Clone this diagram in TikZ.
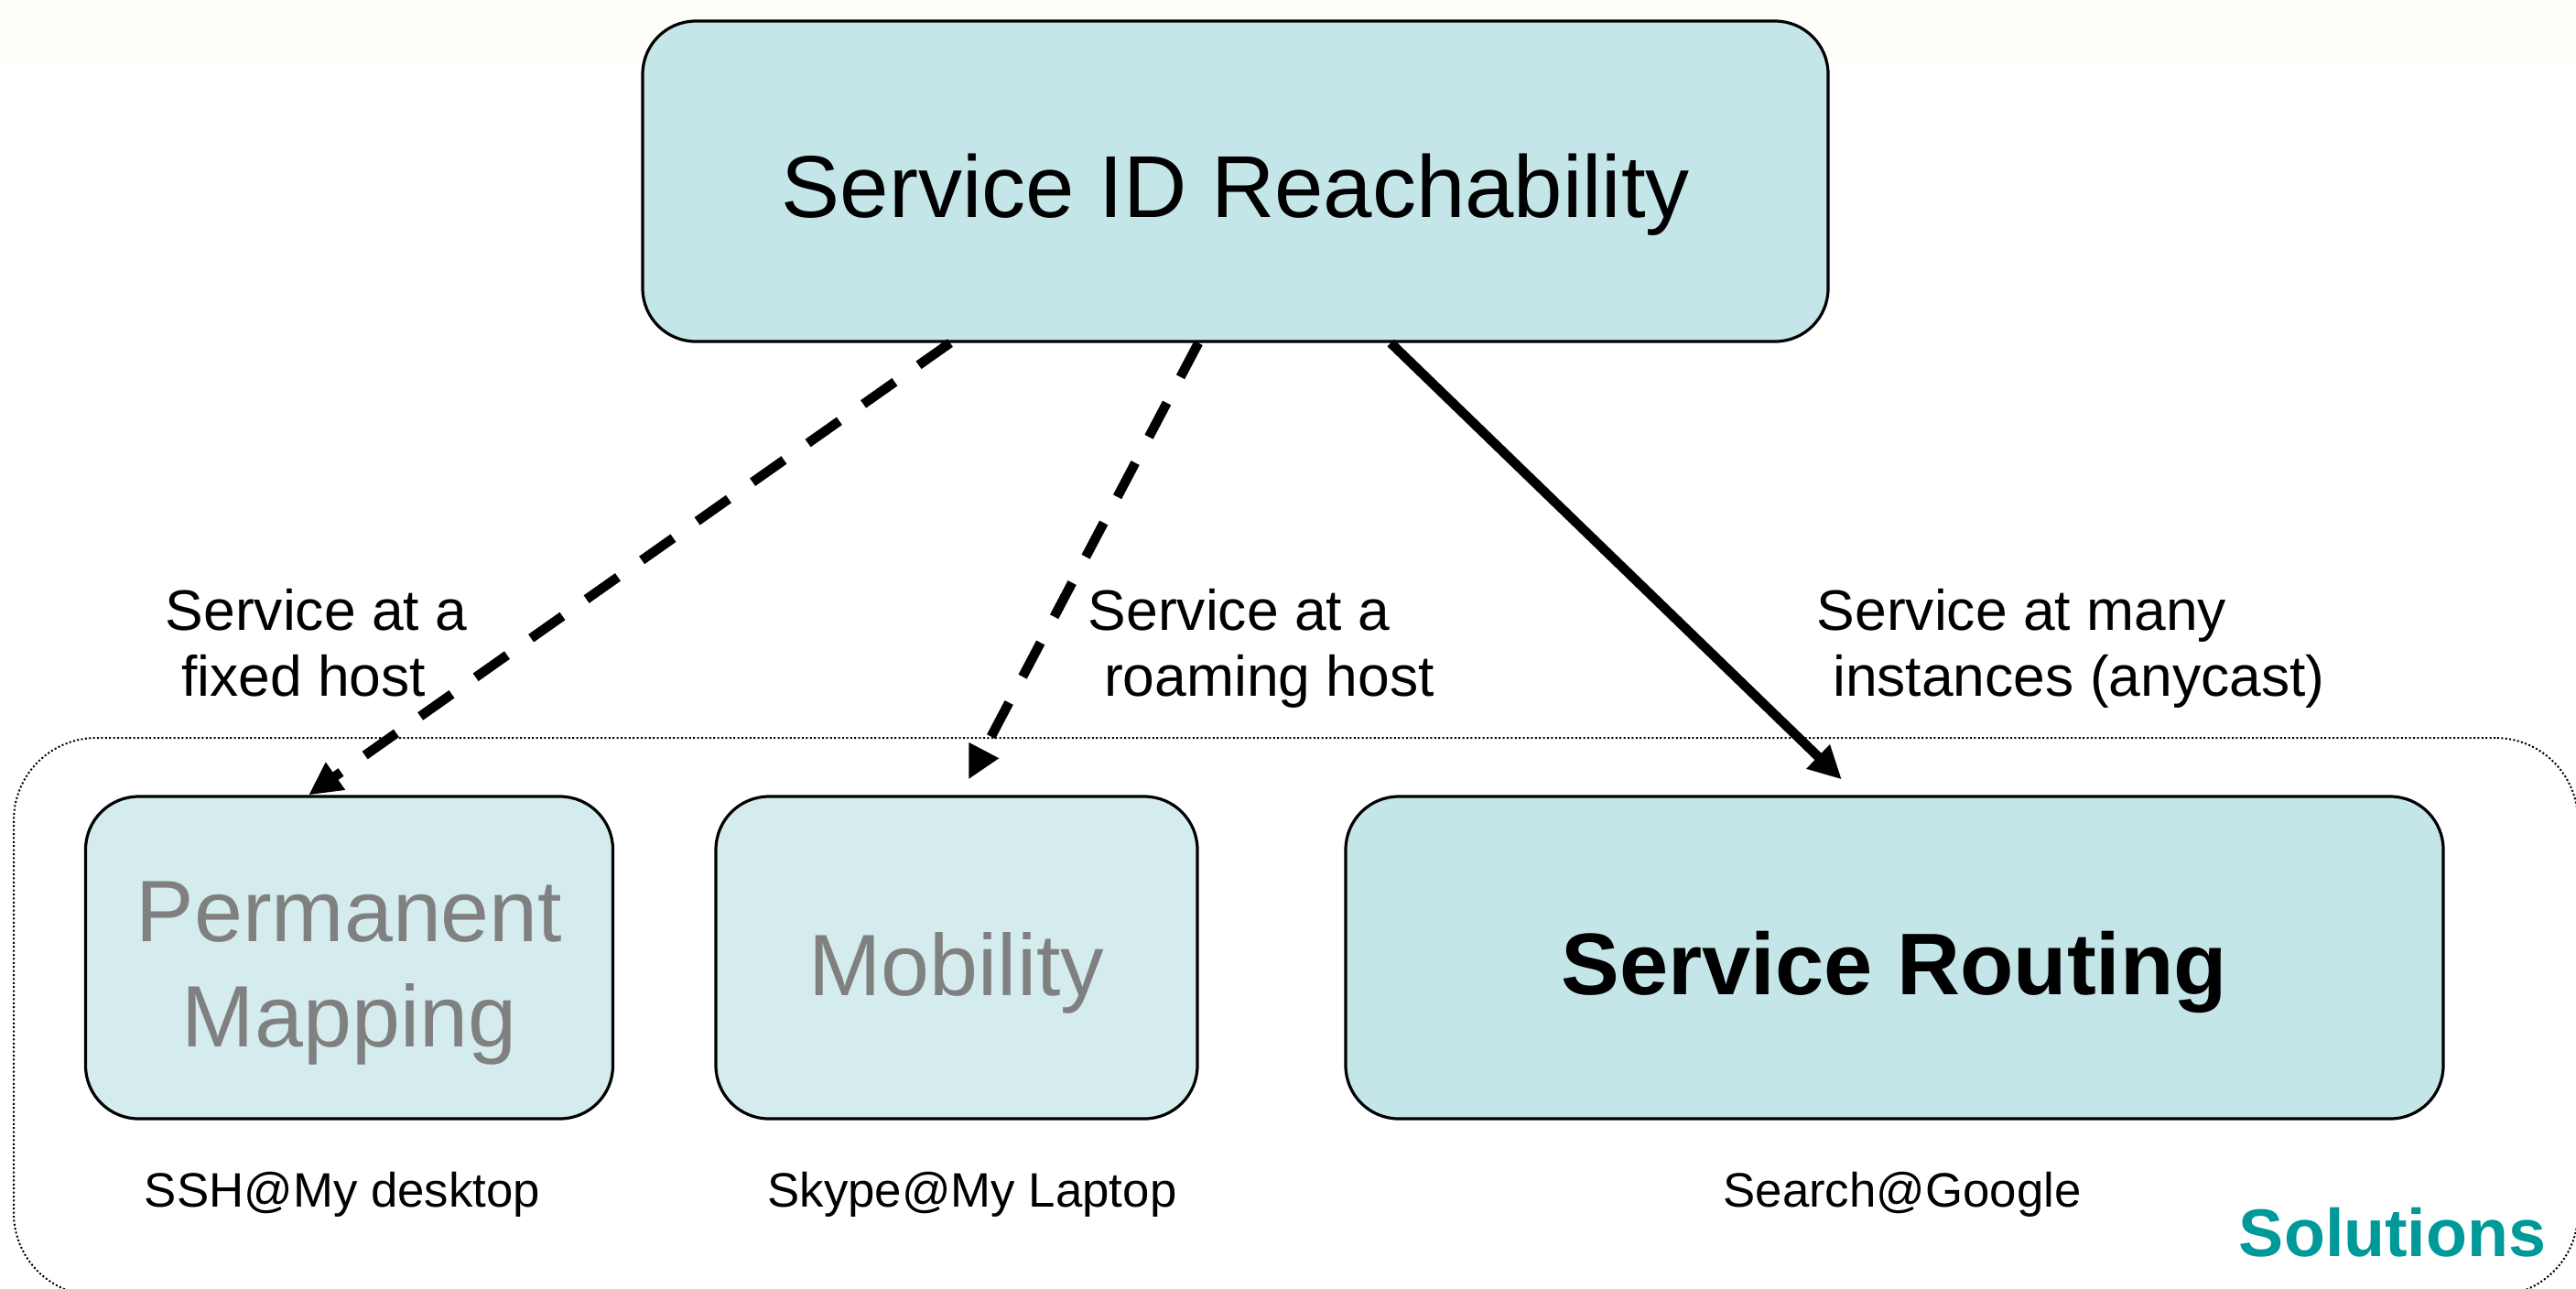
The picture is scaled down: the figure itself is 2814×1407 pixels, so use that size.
\documentclass[tikz,border=0pt]{standalone}
\usepackage{fontspec}
\setmainfont{Liberation Sans}
\usetikzlibrary{arrows.meta}
\definecolor{boxfill}{HTML}{C4E6E8}
\definecolor{softfill}{HTML}{D4ECEE}
\definecolor{dimtext}{HTML}{808080}
\definecolor{solteal}{HTML}{009999}
\definecolor{bandcol}{HTML}{FFFDF9}
\begin{document}
\begin{tikzpicture}[x=0.25pt,y=-0.25pt,
  box/.style={draw=black, line width=0.8pt, rounded corners=14.5pt,
    inner sep=0pt, minimum height=88pt},
  frame/.style={draw=black, line width=0.5pt, dash pattern=on 0.5pt off 0.6pt,
    rounded corners=22.5pt, inner sep=0pt},
  bigtext/.style={inner sep=0pt, font=\fontsize{23.8}{28.75}\selectfont, align=center},
  labeltext/.style={inner sep=0pt, font=\fontsize{15.6}{18}\selectfont, align=left},
  captext/.style={inner sep=0pt, font=\fontsize{13.2}{15}\selectfont},
  link/.style={line width=2.6pt, -{Triangle[length=9pt,width=8.6pt]}},
  dashlink/.style={link, dash pattern=on 10.5pt off 8pt}]
\useasboundingbox (0,0) rectangle (2814,1407);
\fill[bandcol] (0,0) rectangle (2814,64);

% dotted frame around the solution boxes
\node[frame, minimum width=700.25pt, minimum height=152.25pt] (solframe) at (1415.5,1110.5) {};

% boxes
\node[box, fill=boxfill, minimum width=323.75pt, minimum height=87.5pt] (top) at (1349.5,198) {};
\node[box, fill=softfill, minimum width=144pt] (perm) at (381.5,1046) {};
\node[box, fill=softfill, minimum width=131.5pt] (mob) at (1045,1046) {};
\node[box, fill=boxfill, minimum width=299.75pt] (route) at (2069.5,1046) {};

% box texts (multi-line nodes sit on the baseline of their last line)
\node[inner sep=0pt, anchor=base, font=\fontsize{24}{28}\selectfont] (toptxt) at (1350,237) {Service ID Reachability};
\node[bigtext, anchor=base, text=dimtext] (permtxt) at (381.5,1143) {Permanent\\Mapping};
\node[bigtext, anchor=base, text=dimtext] (mobtxt) at (1045,1087) {Mobility};
\node[bigtext, anchor=base, font=\fontsize{23.9}{28}\selectfont\bfseries] (routetxt) at (2069.5,1086) {Service Routing};

% connector labels
\node[labeltext, anchor=base west] (lab1) at (180,760) {Service at a\\\hspace*{0.278em}fixed host};
\node[labeltext, anchor=base west] (lab2) at (1188,760) {Service at a\\\hspace*{0.278em}roaming host};
\node[labeltext, anchor=base west] (lab3) at (1984,760) {Service at many\\\hspace*{0.278em}instances (anycast)};

% examples under the boxes
\node[captext, anchor=base] (cap1) at (374,1318) {SSH@My desktop};
\node[captext, anchor=base] (cap2) at (1062,1318) {Skype@My Laptop};
\node[captext, anchor=base] (cap3) at (2078,1318) {Search@Google};

\node[inner sep=0pt, anchor=base east, text=solteal, font=\fontsize{18.4}{22}\selectfont\bfseries] (soltxt) at (2782,1372) {Solutions};

% connectors
\draw[dashlink] ([xshift=-77.9pt]top.south) -- ([xshift=-11.1pt]perm.north);
\draw[dashlink] ([xshift=-10.1pt]top.south) -- ([xshift=3.25pt,yshift=4.25pt]mob.north);
\draw[link] ([xshift=42.4pt]top.south) -- ([xshift=-14.4pt,yshift=4.25pt]route.north);
\end{tikzpicture}
\end{document}
